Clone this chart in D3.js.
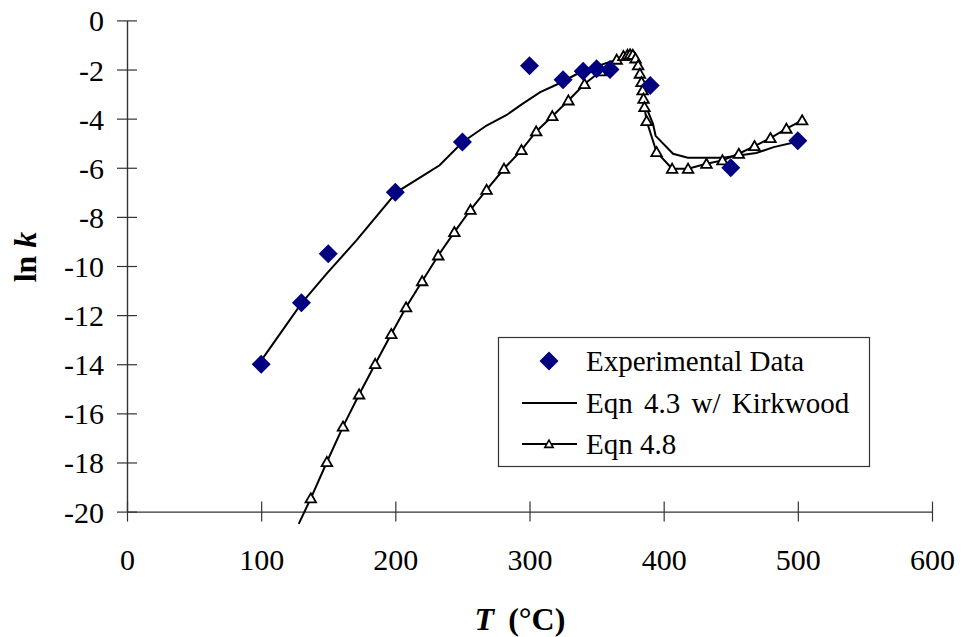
<!DOCTYPE html>
<html><head><meta charset="utf-8">
<script src="https://cdn.jsdelivr.net/npm/d3@7"></script>
<style>body{margin:0;background:#fff}svg{display:block}svg text{font-family:"Liberation Serif","Times New Roman",serif !important;fill:#000}</style>
</head><body>
<script>
const expT   = [100,130,150,200,250,300,325,340,350,360,390,450,500];
const expLnK = [-14,-11.5,-9.5,-7,-4.95,-1.85,-2.42,-2.07,-1.97,-2.0,-2.65,-6.0,-4.9];

const eq43T   = [100,130,149,171,201,221,233,250,268,283,295,308,320,340,365,372,376,378,382,386,392,394,407,418,444,469,482,501];
const eq43LnK = [-13.85,-11.52,-10.3,-8.96,-6.99,-6.31,-5.9,-4.96,-4.28,-3.85,-3.39,-2.92,-2.62,-2.05,-1.6,-1.36,-1.28,-1.3,-1.76,-3.4,-4.2,-4.7,-5.43,-5.59,-5.59,-5.4,-5.16,-4.92];

const eq48T   = [128,137,149,161,173,185,197,208,220,232,244,256,268,281,294,305,317,329,341,353,365,370,373,375,377,379,381,382.3,383.5,384.3,385,385.7,387.3,394.7,406.3,418.2,431.9,443.8,456,467.7,479.6,491.5,503.2];
const eq48LnK = [-20.5,-19.46,-17.98,-16.54,-15.23,-13.99,-12.77,-11.68,-10.62,-9.57,-8.62,-7.71,-6.9,-6.04,-5.28,-4.52,-3.9,-3.26,-2.59,-2.07,-1.6,-1.45,-1.4,-1.38,-1.4,-1.55,-1.83,-2.17,-2.51,-2.85,-3.19,-3.53,-4.1,-5.36,-6.04,-6.04,-5.84,-5.7,-5.43,-5.12,-4.79,-4.41,-4.07];

const xTicks = [0,100,200,300,400,500,600];
const yTicks = [0,-2,-4,-6,-8,-10,-12,-14,-16,-18,-20];
const legendLabels = ["Experimental Data","Eqn 4.3 w/ Kirkwood","Eqn 4.8"];

const W=963,H=637;
const FONT='"Liberation Serif","Times New Roman",serif';
const svg=d3.select("body").append("svg").attr("width",W).attr("height",H);
const x=d3.scaleLinear().domain([0,600]).range([127,932]);
const y=d3.scaleLinear().domain([-20,0]).range([511.6,20.4]);

const axisColor="#333";
const xAxis=svg.append("g").attr("transform",`translate(0,${y(-20)})`)
  .call(d3.axisBottom(x).tickValues(xTicks).tickSizeInner(10).tickSizeOuter(0).tickPadding(27).tickFormat(d3.format("d")));
const yAxis=svg.append("g").attr("transform",`translate(${x(0)},0)`)
  .call(d3.axisLeft(y).tickValues(yTicks).tickSizeInner(10).tickSizeOuter(0).tickPadding(6).tickFormat(d=>d===0?"0":String(d)));
[xAxis,yAxis].forEach(g=>{
  g.attr("font-family",FONT);
  g.select(".domain").attr("stroke",axisColor).attr("stroke-width",1.4);
  g.selectAll(".tick line").attr("stroke",axisColor).attr("stroke-width",1.2);
  g.selectAll(".tick text").attr("font-size",30).attr("fill","#000");
});
xAxis.selectAll(".tick line").attr("y1",-10).attr("y2",10);
yAxis.selectAll(".tick line").attr("x1",-10).attr("x2",10);
xAxis.selectAll(".tick text").attr("dy","0.71em");
yAxis.selectAll(".tick text").attr("x",-23).attr("dy","0.35em");

const line=d3.line().x(d=>x(d[0])).y(d=>y(d[1]));
const eq43=eq43T.map((t,i)=>[t,eq43LnK[i]]);
const eq48=eq48T.map((t,i)=>[t,eq48LnK[i]]);
const exp=expT.map((t,i)=>[t,expLnK[i]]);

svg.append("path").datum(eq43).attr("d",line).attr("fill","none").attr("stroke","#000").attr("stroke-width",2);
svg.append("path").datum(eq48).attr("d",line).attr("fill","none").attr("stroke","#000").attr("stroke-width",2);

const tri=d3.symbol().type(d3.symbolTriangle).size(48);
svg.append("g").selectAll("path").data(eq48.filter(d=>d[1]>=-20)).join("path")
  .attr("d",tri).attr("transform",d=>`translate(${x(d[0])},${y(d[1])+1})`)
  .attr("fill","#fff").attr("stroke","#000").attr("stroke-width",1.8);

const dia=d3.symbol().type(d3.symbolDiamond2).size(230);
svg.append("g").selectAll("path").data(exp).join("path")
  .attr("d",dia).attr("transform",d=>`translate(${x(d[0])},${y(d[1])})`)
  .attr("fill","#000080");

const lg=svg.append("g").attr("font-family",FONT);
lg.append("rect").attr("x",498.5).attr("y",337.5).attr("width",371).attr("height",129)
  .attr("fill","#fff").attr("stroke","#333").attr("stroke-width",1.2);
const rows=[361,403,444];
lg.append("path").attr("d",dia).attr("transform",`translate(549,${rows[0]})`).attr("fill","#000080");
lg.append("line").attr("x1",522).attr("x2",577).attr("y1",rows[1]).attr("y2",rows[1]).attr("stroke","#000").attr("stroke-width",2);
lg.append("line").attr("x1",522).attr("x2",577).attr("y1",rows[2]).attr("y2",rows[2]).attr("stroke","#000").attr("stroke-width",2);
lg.append("path").attr("d",d3.symbol().type(d3.symbolTriangle).size(30)).attr("transform",`translate(549,${rows[2]+1})`)
  .attr("fill","#fff").attr("stroke","#000").attr("stroke-width",1.6);
legendLabels.forEach((s,i)=>{
  lg.append("text").attr("x",586).attr("y",rows[i]).attr("dy","0.33em").attr("font-size",29)
    .attr("word-spacing",i===1?4:0).text(s);
});

const yl=svg.append("text").attr("transform","translate(36,257) rotate(-90)").attr("text-anchor","middle")
  .attr("font-family",FONT).attr("font-size",32).attr("font-weight","bold");
yl.append("tspan").text("ln ");
yl.append("tspan").attr("font-style","italic").text("k");
const xl=svg.append("text").attr("x",520).attr("y",630).attr("text-anchor","middle")
  .attr("font-family",FONT).attr("font-size",32).attr("font-weight","bold");
xl.append("tspan").attr("font-style","italic").text("T");
xl.append("tspan").attr("dx",6).text(" (°C)");
</script>
</body></html>
